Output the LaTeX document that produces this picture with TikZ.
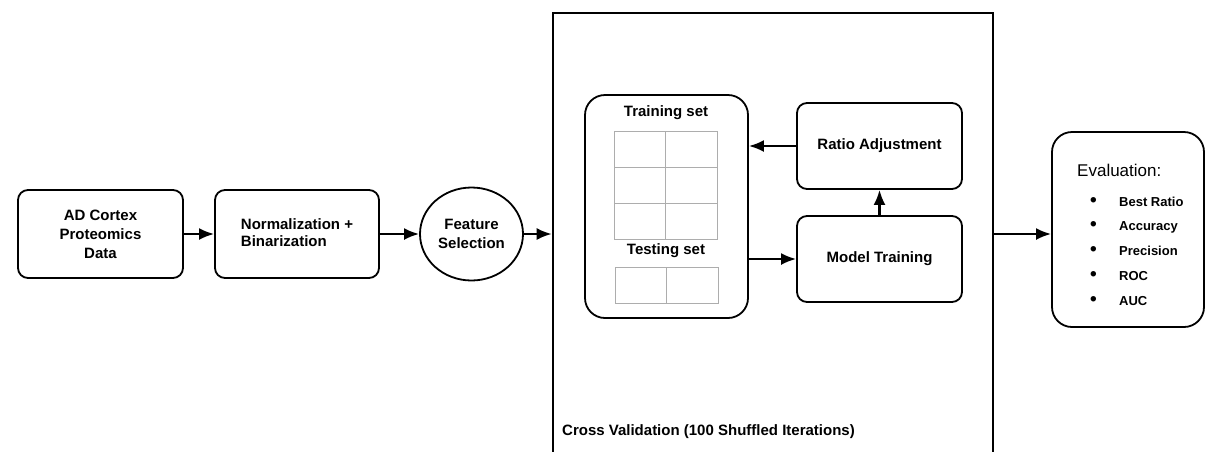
\documentclass[tikz,border=0pt]{standalone}
\usepackage{fontspec}
\setmainfont{Liberation Sans}
\usetikzlibrary{shapes.geometric,arrows.meta}

\tikzset{
  stagebox/.style={draw, line width=1.8pt, rounded corners=10pt, inner sep=0pt,
    font=\bfseries\fontsize{15}{19}\selectfont, align=center},
  stagecirc/.style={draw, ellipse, line width=1.8pt, inner sep=0pt,
    minimum width=103pt, minimum height=93pt,
    font=\bfseries\fontsize{15}{19}\selectfont, align=center},
  cvframe/.style={draw, line width=2.6pt, inner sep=0pt},
  setbox/.style={draw, line width=1.8pt, rounded corners=20pt, inner sep=0pt},
  lbl/.style={font=\bfseries\fontsize{15}{19}\selectfont, inner sep=0pt},
  itemtxt/.style={font=\bfseries\fontsize{13}{16}\selectfont, inner sep=0pt, anchor=west},
  cell/.style={draw=black!32, line width=1pt},
  arr/.style={line width=2.2pt, -{Latex[length=15pt,width=12pt]}},
}
\newcommand{\evalitem}[1]{\makebox[29pt][l]{\fontsize{19}{16}\selectfont\textbullet}#1}

\begin{document}
\begin{tikzpicture}[x=1pt, y=-1pt]
  \path[use as bounding box, clip] (0,0) rectangle (1205,451);
  \fill[white] (0,0) rectangle (1205,451);

  % pipeline stages
  \node[stagebox, minimum width=165pt, minimum height=88pt] (data) at (100.5,234)
    {AD Cortex\\Proteomics\\Data};
  \node[stagebox, minimum width=164pt, minimum height=88pt] (norm) at (297,234)
    {\begin{tabular}{@{}l@{}}Normalization +\\[-1.5pt]Binarization\end{tabular}};
  \node[stagecirc] (feat) at (471.5,234) {Feature\\Selection};

  % cross-validation frame
  \node[cvframe, minimum width=440pt, minimum height=460pt] (cv) at (773,243) {};
  \node[lbl, anchor=west] (cvlabel) at (562,432) {Cross Validation (100 Shuffled Iterations)};

  % data split container
  \node[setbox, minimum width=163pt, minimum height=223pt] (split) at (666.5,206.5) {};
  \node[lbl] (trainlbl) at (666,113) {Training set};
  \node[lbl] (testlbl) at (666,251) {Testing set};
  \draw[cell] (614,131) rectangle (717,239);
  \draw[cell] (665.5,131) -- (665.5,239);
  \draw[cell] (614,167) -- (717,167);
  \draw[cell] (614,203) -- (717,203);
  \draw[cell] (615,267) rectangle (718,303);
  \draw[cell] (666.5,267) -- (666.5,303);

  % training loop
  \node[stagebox, minimum width=165pt, minimum height=86pt] (ratio) at (879.5,146) {Ratio Adjustment};
  \node[stagebox, minimum width=165pt, minimum height=86pt] (model) at (879.5,259) {Model Training};

  % evaluation panel
  \node[setbox, minimum width=152pt, minimum height=195pt] (eval) at (1128,229.5) {};
  \node[font=\fontsize{17}{20}\selectfont, inner sep=0pt, anchor=west] (evaltitle) at (1077,170) {Evaluation:};
  \node[itemtxt] (m1) at (1090,202) {\evalitem{Best Ratio}};
  \node[itemtxt] (m2) at (1090,227) {\evalitem{Accuracy}};
  \node[itemtxt] (m3) at (1090,251) {\evalitem{Precision}};
  \node[itemtxt] (m4) at (1090,276) {\evalitem{ROC}};
  \node[itemtxt] (m5) at (1090,301) {\evalitem{AUC}};

  % connectors
  \draw[arr] (data.east) -- (norm.west);
  \draw[arr] (norm.east) -- (feat.west);
  \draw[arr] (feat.east) -- (feat.east -| cv.west);
  \draw[arr] (feat -| cv.east) -- (feat -| eval.west);
  \draw[arr] (ratio.west) -- (ratio.west -| split.east);
  \draw[arr] (split.east |- model.west) -- (model.west);
  \draw[arr] (model.north) -- (ratio.south);
\end{tikzpicture}
\end{document}
